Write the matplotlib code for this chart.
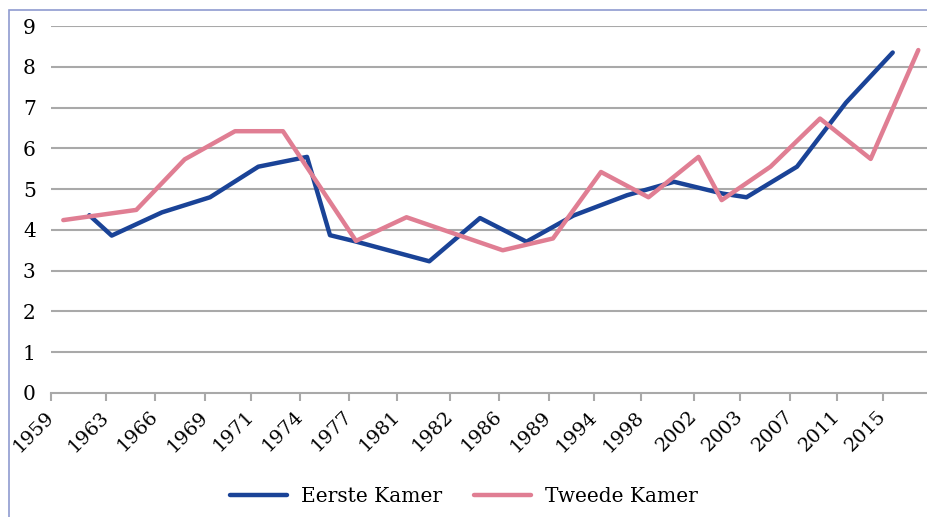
import matplotlib
matplotlib.use("Agg")
import matplotlib.pyplot as plt
from matplotlib.patches import Rectangle

# category labels and where they sit on the (uneven) x axis
years = ["1959", "1963", "1966", "1969", "1971", "1974", "1977", "1981", "1982",
         "1986", "1989", "1994", "1998", "2002", "2003", "2007", "2011", "2015"]
year_pos = [0, 1.124, 2.131, 3.147, 4.081, 5.082, 6.089, 7.070, 8.147,
            9.148, 10.170, 11.095, 12.056, 13.139, 14.085, 15.100, 16.067, 17.0]

# Eerste Kamer
ek_x = [0.783, 1.240, 2.268, 3.249, 4.236, 5.231, 5.701, 6.212, 7.730, 8.766,
        9.716, 10.672, 11.770, 12.730, 13.725, 14.211, 15.243, 16.244, 17.199]
ek_y = [4.36, 3.86, 4.43, 4.80, 5.55, 5.79, 3.87, 3.72, 3.23, 4.29,
        3.71, 4.35, 4.85, 5.18, 4.89, 4.80, 5.55, 7.12, 8.35]

# Tweede Kamer
tk_x = [0.251, 1.743, 2.732, 3.760, 4.740, 6.232, 7.264, 9.230, 10.257,
        11.238, 12.209, 13.231, 13.704, 14.702, 15.713, 16.749, 17.722]
tk_y = [4.24, 4.49, 5.73, 6.42, 6.42, 3.73, 4.31, 3.50, 3.79,
        5.42, 4.80, 5.79, 4.73, 5.55, 6.73, 5.74, 8.41]

plt.rcParams["font.family"] = "DejaVu Serif"

W, H = 928, 517
fig = plt.figure(figsize=(W / 100, H / 100), dpi=100)
ax = fig.add_axes([51 / W, (H - 393) / H, (W - 51) / W, (393 - 26) / H])

grid_col = "#a9a9a9"
for v in range(1, 10):
    ax.axhline(v, color=grid_col, lw=1.5, zorder=1)

ax.plot(ek_x, ek_y, color="#1a4397", lw=3.2, solid_capstyle="round",
        solid_joinstyle="round", label="Eerste Kamer", zorder=3)
ax.plot(tk_x, tk_y, color="#e07e93", lw=3.2, solid_capstyle="round",
        solid_joinstyle="round", label="Tweede Kamer", zorder=4)

ax.set_xlim(0, (W - 51) / 48.94)
ax.set_ylim(0, 9)
ax.set_yticks(range(10))
ax.tick_params(axis="y", length=0, pad=11, labelsize=14.5)
ax.set_xticks(year_pos)
ax.set_xticklabels(years, rotation=45, ha="right", va="center",
                   rotation_mode="anchor", fontsize=14)
ax.tick_params(axis="x", length=6, width=1.5, color=grid_col, pad=9)

for s in ["top", "right", "left"]:
    ax.spines[s].set_visible(False)
ax.spines["bottom"].set_color(grid_col)
ax.spines["bottom"].set_linewidth(1.5)

fig.legend(loc="center", bbox_to_anchor=(0.5, 1 - 497 / H), ncol=2,
           frameon=False, fontsize=14.5, handlelength=2.8, columnspacing=1.6,
           handletextpad=0.7)

# chart border (cut off on the right and bottom)
fig.add_artist(Rectangle((9.5 / W, -0.1), 1.2, 1 - 9.5 / H + 0.1,
                         transform=fig.transFigure, fill=False,
                         edgecolor="#8f9bd0", lw=1.2))

fig.savefig("out.png", dpi=100)
